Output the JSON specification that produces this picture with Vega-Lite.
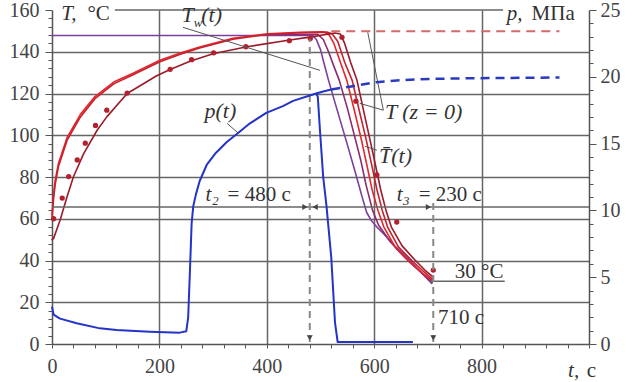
{
  "$schema": "https://vega.github.io/schema/vega-lite/v6.json",
  "width": 537,
  "height": 334,
  "autosize": {"type": "none"},
  "padding": {"left": 52, "top": 10, "right": 44, "bottom": 38},
  "background": "white",
  "config": {
    "view": {"stroke": null},
    "axis": {"labelFont": "Liberation Serif", "labelFontSize": 20, "labelColor": "#444", "domainColor": "#555", "domainWidth": 1.5, "tickColor": "#555", "tickWidth": 1, "gridColor": "#666", "gridWidth": 1.5},
    "text": {"font": "Liberation Serif", "fontSize": 21, "color": "#333"}
  },
  "data": {"values": [{}]},
  "datasets": {
    "temps": [
      {"series": "Tw", "t": 0, "T": 147.8}, {"series": "Tw", "t": 485, "T": 147.8}, {"series": "Tw", "t": 492, "T": 146}, {"series": "Tw", "t": 500, "T": 141}, {"series": "Tw", "t": 507, "T": 134}, {"series": "Tw", "t": 515, "T": 126.3}, {"series": "Tw", "t": 530, "T": 113}, {"series": "Tw", "t": 550, "T": 95.5}, {"series": "Tw", "t": 565, "T": 82}, {"series": "Tw", "t": 578, "T": 70}, {"series": "Tw", "t": 586, "T": 63}, {"series": "Tw", "t": 595, "T": 59}, {"series": "Tw", "t": 605, "T": 56}, {"series": "Tw", "t": 617, "T": 53}, {"series": "Tw", "t": 640, "T": 46.5}, {"series": "Tw", "t": 660, "T": 41.8}, {"series": "Tw", "t": 685, "T": 35}, {"series": "Tw", "t": 707, "T": 29},
      {"series": "Tw2", "t": 400, "T": 148.3}, {"series": "Tw2", "t": 495, "T": 148.3}, {"series": "Tw2", "t": 505, "T": 146}, {"series": "Tw2", "t": 515, "T": 140}, {"series": "Tw2", "t": 525, "T": 133}, {"series": "Tw2", "t": 535, "T": 126.3}, {"series": "Tw2", "t": 550, "T": 113}, {"series": "Tw2", "t": 565, "T": 98}, {"series": "Tw2", "t": 575, "T": 88}, {"series": "Tw2", "t": 585, "T": 76}, {"series": "Tw2", "t": 597, "T": 64}, {"series": "Tw2", "t": 608, "T": 57}, {"series": "Tw2", "t": 630, "T": 49}, {"series": "Tw2", "t": 655, "T": 42}, {"series": "Tw2", "t": 682, "T": 35.5}, {"series": "Tw2", "t": 708, "T": 29.5},
      {"series": "Ta", "t": 0, "T": 62}, {"series": "Ta", "t": 3, "T": 72}, {"series": "Ta", "t": 6, "T": 78.5}, {"series": "Ta", "t": 12, "T": 86.5}, {"series": "Ta", "t": 28, "T": 98.8}, {"series": "Ta", "t": 53, "T": 110}, {"series": "Ta", "t": 80, "T": 118.5}, {"series": "Ta", "t": 115, "T": 125.5}, {"series": "Ta", "t": 151, "T": 129.7}, {"series": "Ta", "t": 201, "T": 135.9}, {"series": "Ta", "t": 239, "T": 139.4}, {"series": "Ta", "t": 275, "T": 142.3}, {"series": "Ta", "t": 337, "T": 146.4}, {"series": "Ta", "t": 401, "T": 148.6}, {"series": "Ta", "t": 462, "T": 149.3}, {"series": "Ta", "t": 505, "T": 149.6}, {"series": "Ta", "t": 515, "T": 148.5}, {"series": "Ta", "t": 525, "T": 144}, {"series": "Ta", "t": 537, "T": 135}, {"series": "Ta", "t": 549, "T": 126.3}, {"series": "Ta", "t": 563, "T": 112}, {"series": "Ta", "t": 576, "T": 98}, {"series": "Ta", "t": 587, "T": 85}, {"series": "Ta", "t": 596, "T": 74}, {"series": "Ta", "t": 607, "T": 64}, {"series": "Ta", "t": 618, "T": 56}, {"series": "Ta", "t": 640, "T": 46}, {"series": "Ta", "t": 665, "T": 39.5}, {"series": "Ta", "t": 690, "T": 34}, {"series": "Ta", "t": 708, "T": 30.5},
      {"series": "Tb", "t": 0, "T": 60}, {"series": "Tb", "t": 3, "T": 70}, {"series": "Tb", "t": 6, "T": 76.5}, {"series": "Tb", "t": 12, "T": 85}, {"series": "Tb", "t": 28, "T": 97.5}, {"series": "Tb", "t": 53, "T": 108.8}, {"series": "Tb", "t": 80, "T": 117.5}, {"series": "Tb", "t": 115, "T": 124.6}, {"series": "Tb", "t": 151, "T": 129}, {"series": "Tb", "t": 201, "T": 135.2}, {"series": "Tb", "t": 239, "T": 138.8}, {"series": "Tb", "t": 275, "T": 141.8}, {"series": "Tb", "t": 337, "T": 146}, {"series": "Tb", "t": 401, "T": 148.3}, {"series": "Tb", "t": 462, "T": 149.1}, {"series": "Tb", "t": 512, "T": 149.4}, {"series": "Tb", "t": 522, "T": 148.5}, {"series": "Tb", "t": 532, "T": 145}, {"series": "Tb", "t": 545, "T": 135}, {"series": "Tb", "t": 559, "T": 126.3}, {"series": "Tb", "t": 572, "T": 112}, {"series": "Tb", "t": 585, "T": 98}, {"series": "Tb", "t": 596, "T": 85}, {"series": "Tb", "t": 605, "T": 74}, {"series": "Tb", "t": 615, "T": 64}, {"series": "Tb", "t": 625, "T": 56}, {"series": "Tb", "t": 645, "T": 46.5}, {"series": "Tb", "t": 670, "T": 40}, {"series": "Tb", "t": 693, "T": 34.5}, {"series": "Tb", "t": 709, "T": 31},
      {"series": "Tz0", "t": 0, "T": 50}, {"series": "Tz0", "t": 3, "T": 50.6}, {"series": "Tz0", "t": 15, "T": 59.3}, {"series": "Tz0", "t": 28, "T": 70.5}, {"series": "Tz0", "t": 40, "T": 80.1}, {"series": "Tz0", "t": 59, "T": 91.2}, {"series": "Tz0", "t": 84, "T": 102.4}, {"series": "Tz0", "t": 102, "T": 108.8}, {"series": "Tz0", "t": 140, "T": 120}, {"series": "Tz0", "t": 195, "T": 128.5}, {"series": "Tz0", "t": 220, "T": 131.5}, {"series": "Tz0", "t": 257, "T": 135.5}, {"series": "Tz0", "t": 300, "T": 139}, {"series": "Tz0", "t": 363, "T": 142.4}, {"series": "Tz0", "t": 443, "T": 145.6}, {"series": "Tz0", "t": 480, "T": 147}, {"series": "Tz0", "t": 527, "T": 149}, {"series": "Tz0", "t": 537, "T": 148.5}, {"series": "Tz0", "t": 545, "T": 144}, {"series": "Tz0", "t": 556, "T": 135}, {"series": "Tz0", "t": 568, "T": 126.3}, {"series": "Tz0", "t": 580, "T": 112}, {"series": "Tz0", "t": 592, "T": 98}, {"series": "Tz0", "t": 603, "T": 85}, {"series": "Tz0", "t": 612, "T": 74}, {"series": "Tz0", "t": 622, "T": 64}, {"series": "Tz0", "t": 632, "T": 56}, {"series": "Tz0", "t": 652, "T": 47}, {"series": "Tz0", "t": 675, "T": 40.5}, {"series": "Tz0", "t": 696, "T": 35}, {"series": "Tz0", "t": 710, "T": 32},
      {"series": "dash", "t": 520, "T": 149.8}, {"series": "dash", "t": 945, "T": 149.8}
    ],
    "dots": [
      {"t": 3, "T": 60}, {"t": 19, "T": 69.9}, {"t": 31, "T": 80.2}, {"t": 47, "T": 88.2}, {"t": 62, "T": 96.2}, {"t": 81, "T": 104.7}, {"t": 102, "T": 112}, {"t": 140, "T": 120.2}, {"t": 220, "T": 131.6}, {"t": 260, "T": 136.2}, {"t": 301, "T": 139.5}, {"t": 361, "T": 142.4}, {"t": 442, "T": 145.3}, {"t": 481, "T": 146.3}, {"t": 540, "T": 146.9}, {"t": 566, "T": 116.3}, {"t": 605, "T": 81}, {"t": 642, "T": 58.4}, {"t": 710, "T": 35.4}
    ],
    "press": [
      {"series": "main", "t": 0, "p": 2.8}, {"series": "main", "t": 3, "p": 2.2}, {"series": "main", "t": 15, "p": 1.9}, {"series": "main", "t": 46, "p": 1.55}, {"series": "main", "t": 89, "p": 1.17}, {"series": "main", "t": 120, "p": 1.05}, {"series": "main", "t": 182, "p": 0.92}, {"series": "main", "t": 238, "p": 0.85}, {"series": "main", "t": 250, "p": 0.95}, {"series": "main", "t": 253.6, "p": 2.0}, {"series": "main", "t": 256.7, "p": 5.3}, {"series": "main", "t": 260, "p": 9.0}, {"series": "main", "t": 263, "p": 10.3}, {"series": "main", "t": 268, "p": 11.2}, {"series": "main", "t": 275, "p": 12.2}, {"series": "main", "t": 288, "p": 13.4}, {"series": "main", "t": 305, "p": 14.3}, {"series": "main", "t": 325, "p": 15.1}, {"series": "main", "t": 350, "p": 15.9}, {"series": "main", "t": 368, "p": 16.5}, {"series": "main", "t": 399, "p": 17.3}, {"series": "main", "t": 430, "p": 17.8}, {"series": "main", "t": 449, "p": 18.2}, {"series": "main", "t": 480, "p": 18.6}, {"series": "main", "t": 492, "p": 18.75}, {"series": "main", "t": 495, "p": 18.5}, {"series": "main", "t": 499, "p": 16.0}, {"series": "main", "t": 505, "p": 12.5}, {"series": "main", "t": 511, "p": 10.4}, {"series": "main", "t": 520, "p": 6.5}, {"series": "main", "t": 527, "p": 1.6}, {"series": "main", "t": 532, "p": 0.15}, {"series": "main", "t": 672, "p": 0.15},
      {"series": "ext", "t": 492, "p": 18.75}, {"series": "ext", "t": 505, "p": 18.9}, {"series": "ext", "t": 520, "p": 19.05},
      {"series": "dash", "t": 520, "p": 19.05}, {"series": "dash", "t": 560, "p": 19.3}, {"series": "dash", "t": 604, "p": 19.6}, {"series": "dash", "t": 647, "p": 19.75}, {"series": "dash", "t": 709, "p": 19.85}, {"series": "dash", "t": 796, "p": 19.9}, {"series": "dash", "t": 945, "p": 19.95}
    ]
  },
  "layer": [
    {
      "layer": [
        {
          "data": {"name": "temps"},
          "transform": [{"filter": "datum.series !== 'dash'"}],
          "mark": {"type": "line", "strokeJoin": "round", "strokeCap": "round"},
          "encoding": {
            "x": {"field": "t", "type": "quantitative", "title": null, "scale": {"domain": [0, 1000], "nice": false, "zero": false},
              "axis": {"title": null, "tickCount": 200, "format": "d", "values": [0,40,80,120,160,200,240,280,320,360,400,440,480,520,560,600,640,680,720,760,800,840,880,920,960,1000],
                "labelExpr": "datum.value % 200 === 0 && datum.value < 1000 ? datum.label : ''", "labelFlush": false, "labelOverlap": false, "labelBound": false,
                "tickSize": 4, "labelPadding": 8, "grid": true,
                "gridOpacity": {"condition": {"test": "datum.value % 200 === 0 && datum.value > 0 && datum.value < 1000", "value": 1}, "value": 0}}},
            "y": {"field": "T", "type": "quantitative", "title": null, "scale": {"domain": [0, 160], "nice": false, "zero": false},
              "axis": {"title": null, "tickCount": 200, "format": "d", "values": [0,4,8,12,16,20,24,28,32,36,40,44,48,52,56,60,64,68,72,76,80,84,88,92,96,100,104,108,112,116,120,124,128,132,136,140,144,148,152,156,160],
                "labelExpr": "datum.value % 20 === 0 ? datum.label : ''", "labelOverlap": false, "labelBound": false, "labelFlush": false,
                "tickSize": {"condition": {"test": "datum.value % 20 === 0", "value": 7}, "value": 4}, "labelPadding": 6, "grid": true,
                "gridOpacity": {"condition": {"test": "datum.value % 20 === 0 && datum.value > 0 && datum.value < 160", "value": 1}, "value": 0}}},
            "color": {"field": "series", "type": "nominal", "scale": {"domain": ["Tw", "Tw2", "Ta", "Tb", "Tz0"], "range": ["#7b3fa0", "#8e2a6e", "#e3262b", "#c8202e", "#9a1b2a"]}, "legend": null},
            "strokeWidth": {"field": "series", "type": "nominal", "scale": {"domain": ["Tw", "Tw2", "Ta", "Tb", "Tz0"], "range": [1.6, 1.6, 2.2, 1.8, 1.6]}, "legend": null}
          }
        },
        {
          "data": {"name": "temps"},
          "transform": [{"filter": "datum.series === 'dash'"}],
          "mark": {"type": "line", "color": "#d46a6a", "strokeWidth": 2, "strokeDash": [9, 6]},
          "encoding": {"x": {"field": "t", "type": "quantitative", "title": null}, "y": {"field": "T", "type": "quantitative", "title": null}}
        },
        {
          "data": {"name": "dots"},
          "mark": {"type": "point", "filled": true, "color": "#b3202e", "size": 28, "opacity": 1},
          "encoding": {"x": {"field": "t", "type": "quantitative", "title": null}, "y": {"field": "T", "type": "quantitative", "title": null}}
        },
        {"mark": {"type": "rule", "color": "#666", "strokeWidth": 1.5}, "encoding": {"x": {"datum": 117}, "x2": {"datum": 840}, "y": {"datum": 160}}},
        {"mark": {"type": "rule", "color": "#666", "strokeWidth": 1.5}, "encoding": {"y": {"datum": 65.6}}},
        {"mark": {"type": "rule", "color": "#666", "strokeWidth": 1.5}, "encoding": {"x": {"datum": 704}, "x2": {"datum": 843}, "y": {"datum": 30.1}}},
        {"mark": {"type": "rule", "color": "#888", "strokeWidth": 2, "strokeDash": [7, 5]}, "encoding": {"x": {"datum": 480}, "y": {"datum": 1}, "y2": {"datum": 146}}},
        {"mark": {"type": "rule", "color": "#888", "strokeWidth": 2, "strokeDash": [7, 5]}, "encoding": {"x": {"datum": 710}, "y": {"datum": 1}, "y2": {"datum": 68}}},
        {"mark": {"type": "rule", "color": "#555", "strokeWidth": 1}, "encoding": {"x": {"datum": 244}, "y": {"datum": 151.7}, "x2": {"datum": 499}, "y2": {"datum": 131.1}}},
        {"mark": {"type": "rule", "color": "#555", "strokeWidth": 1}, "encoding": {"x": {"datum": 326}, "y": {"datum": 105.7}, "x2": {"datum": 347}, "y2": {"datum": 101}}},
        {"mark": {"type": "rule", "color": "#555", "strokeWidth": 1}, "encoding": {"x": {"datum": 617}, "y": {"datum": 112}, "x2": {"datum": 588}, "y2": {"datum": 149.3}}},
        {"mark": {"type": "rule", "color": "#555", "strokeWidth": 1}, "encoding": {"x": {"datum": 617}, "y": {"datum": 112}, "x2": {"datum": 573}, "y2": {"datum": 115.3}}},
        {"mark": {"type": "rule", "color": "#555", "strokeWidth": 1}, "encoding": {"x": {"datum": 605}, "y": {"datum": 92.8}, "x2": {"datum": 583}, "y2": {"datum": 94.7}}},
        {"mark": {"type": "point", "shape": "triangle-right", "filled": true, "color": "#444", "size": 36, "opacity": 1}, "encoding": {"x": {"datum": 471}, "y": {"datum": 65.6}}},
        {"mark": {"type": "point", "shape": "triangle-left", "filled": true, "color": "#444", "size": 36, "opacity": 1}, "encoding": {"x": {"datum": 490}, "y": {"datum": 65.6}}},
        {"mark": {"type": "point", "shape": "triangle-right", "filled": true, "color": "#444", "size": 36, "opacity": 1}, "encoding": {"x": {"datum": 701}, "y": {"datum": 65.6}}},
        {"mark": {"type": "point", "shape": "triangle-down", "filled": true, "color": "#444", "size": 36, "opacity": 1}, "encoding": {"x": {"datum": 480}, "y": {"datum": 3}}},
        {"mark": {"type": "point", "shape": "triangle-down", "filled": true, "color": "#444", "size": 36, "opacity": 1}, "encoding": {"x": {"datum": 710}, "y": {"datum": 3}}},
        {"mark": {"type": "text", "text": "T,", "fontStyle": "italic", "align": "left", "baseline": "middle"}, "encoding": {"x": {"datum": 17}, "y": {"datum": 158}}},
        {"mark": {"type": "text", "text": "°C", "align": "left", "baseline": "middle"}, "encoding": {"x": {"datum": 66}, "y": {"datum": 158}}},
        {"mark": {"type": "text", "text": "p,", "fontStyle": "italic", "align": "left", "baseline": "middle"}, "encoding": {"x": {"datum": 847}, "y": {"datum": 158}}},
        {"mark": {"type": "text", "text": "МПа", "align": "left", "baseline": "middle"}, "encoding": {"x": {"datum": 893}, "y": {"datum": 158}}},
        {"mark": {"type": "text", "text": "t,", "fontStyle": "italic", "align": "left", "baseline": "middle"}, "encoding": {"x": {"datum": 961}, "y": {"datum": -12.9}}},
        {"mark": {"type": "text", "text": "c", "align": "left", "baseline": "middle"}, "encoding": {"x": {"datum": 996}, "y": {"datum": -12.9}}},
        {"mark": {"type": "text", "text": "T", "fontStyle": "italic", "fontSize": 22, "align": "left", "baseline": "middle"}, "encoding": {"x": {"datum": 241}, "y": {"datum": 157.4}}},
        {"mark": {"type": "text", "text": "w", "fontStyle": "italic", "fontSize": 13, "align": "left", "baseline": "middle"}, "encoding": {"x": {"datum": 264}, "y": {"datum": 154}}},
        {"mark": {"type": "text", "text": "(t)", "fontStyle": "italic", "fontSize": 22, "align": "left", "baseline": "middle"}, "encoding": {"x": {"datum": 278}, "y": {"datum": 157.4}}},
        {"mark": {"type": "text", "text": "p(t)", "fontStyle": "italic", "fontSize": 22, "align": "left", "baseline": "middle"}, "encoding": {"x": {"datum": 284}, "y": {"datum": 111.5}}},
        {"mark": {"type": "text", "text": "T (z  =  0)", "fontStyle": "italic", "fontSize": 22, "align": "left", "baseline": "middle"}, "encoding": {"x": {"datum": 620}, "y": {"datum": 111}}},
        {"mark": {"type": "text", "text": "T̄(t)", "fontStyle": "italic", "fontSize": 22, "align": "left", "baseline": "middle"}, "encoding": {"x": {"datum": 609}, "y": {"datum": 90}}},
        {"mark": {"type": "text", "text": "t₂", "fontStyle": "italic", "align": "left", "baseline": "middle"}, "encoding": {"x": {"datum": 286}, "y": {"datum": 71.3}}},
        {"mark": {"type": "text", "text": "= 480 c", "align": "left", "baseline": "middle"}, "encoding": {"x": {"datum": 327}, "y": {"datum": 71.3}}},
        {"mark": {"type": "text", "text": "t₃", "fontStyle": "italic", "align": "left", "baseline": "middle"}, "encoding": {"x": {"datum": 642}, "y": {"datum": 71.3}}},
        {"mark": {"type": "text", "text": "= 230 c", "align": "left", "baseline": "middle"}, "encoding": {"x": {"datum": 683}, "y": {"datum": 71.3}}},
        {"mark": {"type": "text", "text": "30 °C", "align": "left", "baseline": "middle"}, "encoding": {"x": {"datum": 750}, "y": {"datum": 34.4}}},
        {"mark": {"type": "text", "text": "710 c", "align": "left", "baseline": "middle"}, "encoding": {"x": {"datum": 719}, "y": {"datum": 12.4}}}
      ]
    },
    {
      "layer": [
        {
          "data": {"name": "press"},
          "transform": [{"filter": "datum.series !== 'dash'"}],
          "mark": {"type": "line", "color": "#2433c8", "strokeWidth": 2, "strokeJoin": "round"},
          "encoding": {
            "x": {"field": "t", "type": "quantitative", "title": null},
            "y": {"field": "p", "type": "quantitative", "title": null, "scale": {"domain": [0, 25], "nice": false, "zero": false},
              "axis": {"title": null, "orient": "right", "tickCount": 200, "format": "d", "values": [0,1,2,3,4,5,6,7,8,9,10,11,12,13,14,15,16,17,18,19,20,21,22,23,24,25],
                "labelExpr": "datum.value % 5 === 0 ? datum.label : ''", "labelOverlap": false, "labelBound": false, "labelFlush": false,
                "tickSize": {"condition": {"test": "datum.value % 5 === 0", "value": 7}, "value": 4}, "labelPadding": 4, "grid": false}},
            "detail": {"field": "series", "type": "nominal"}
          }
        },
        {
          "data": {"name": "press"},
          "transform": [{"filter": "datum.series === 'dash'"}],
          "mark": {"type": "line", "color": "#2a3ac0", "strokeWidth": 2.5, "strokeDash": [9, 6]},
          "encoding": {"x": {"field": "t", "type": "quantitative", "title": null}, "y": {"field": "p", "type": "quantitative", "title": null}}
        }
      ]
    }
  ],
  "resolve": {"scale": {"y": "independent"}}
}
